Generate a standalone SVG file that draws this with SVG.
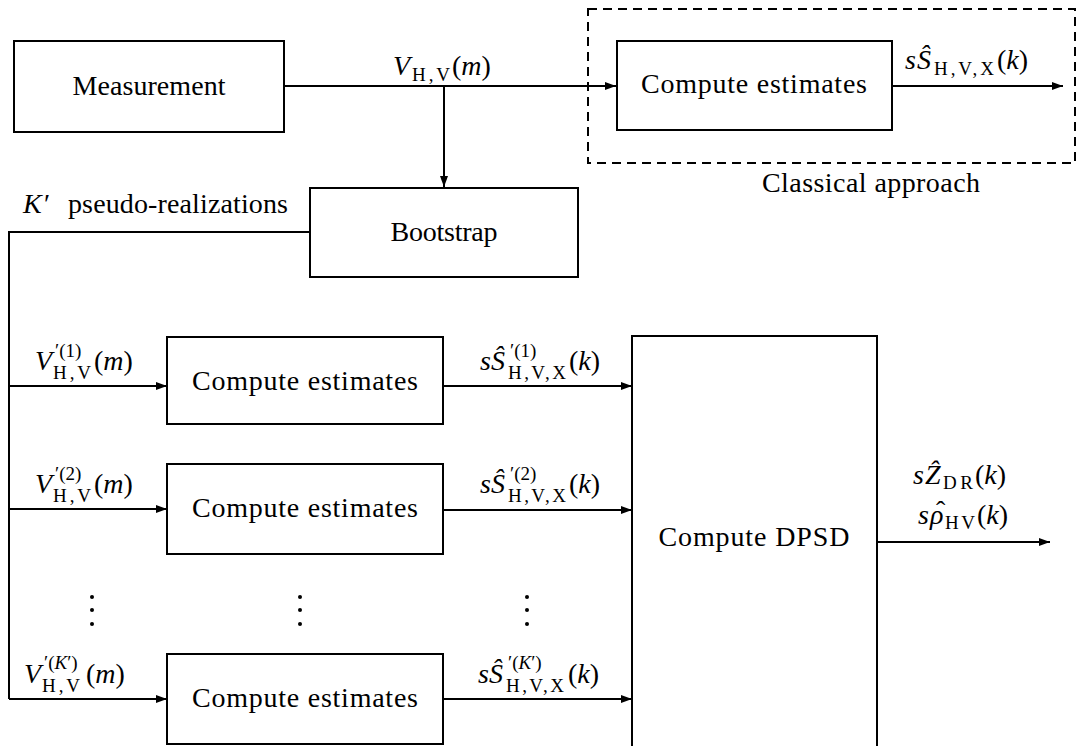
<svg xmlns="http://www.w3.org/2000/svg" width="1078" height="746" viewBox="0 0 1078 746" font-family="'Liberation Serif', 'DejaVu Serif', serif">
<style>
text, tspan{font-family:"Liberation Serif","DejaVu Serif",serif;fill:#000}
.t{font-size:28px}
.mi{font-size:28px;font-style:italic}
.mr{font-size:28px}
.sb{font-size:19px}
.si{font-size:19px;font-style:italic}
.box{fill:#fff;stroke:#000;stroke-width:2}
.ln{fill:none;stroke:#000;stroke-width:2}
.dash{fill:none;stroke:#000;stroke-width:2;stroke-dasharray:9 6}
</style>
<defs>
<marker id="ar" viewBox="0 0 11 8" refX="11" refY="4" markerWidth="11" markerHeight="8" markerUnits="userSpaceOnUse" orient="auto">
<path d="M0,0 L11,4 L0,8 z" fill="#000"/>
</marker>
</defs>
<rect width="1078" height="746" fill="#fff"/>

<g id="classical-group">
<rect class="dash" x="588" y="9" width="487" height="154"/>
<text class="t" x="871" y="192" text-anchor="middle" textLength="218">Classical approach</text>
</g>

<g id="connectors">
<path class="ln" d="M284,86 H616" marker-end="url(#ar)"/>
<path class="ln" d="M444,86 V187" marker-end="url(#ar)"/>
<path class="ln" d="M892,86 H1063" marker-end="url(#ar)"/>
<path class="ln" d="M310,232 H9 V699"/>
<path class="ln" d="M9,386 H167" marker-end="url(#ar)"/>
<path class="ln" d="M9,509 H167" marker-end="url(#ar)"/>
<path class="ln" d="M9,699 H167" marker-end="url(#ar)"/>
<path class="ln" d="M443,386 H632" marker-end="url(#ar)"/>
<path class="ln" d="M443,510 H632" marker-end="url(#ar)"/>
<path class="ln" d="M443,699 H632" marker-end="url(#ar)"/>
<path class="ln" d="M877,542 H1050" marker-end="url(#ar)"/>
</g>

<g id="measurement">
<rect class="box" x="14" y="41" width="270" height="91"/>
<text class="t" x="149" y="95" text-anchor="middle" textLength="153">Measurement</text>
</g>

<g id="compute-top">
<rect class="box" x="617" y="41" width="275" height="89"/>
<text class="t" x="754" y="93" text-anchor="middle" textLength="226">Compute estimates</text>
</g>

<g id="bootstrap">
<rect class="box" x="310" y="188" width="268" height="89"/>
<text class="t" x="444" y="241" text-anchor="middle" textLength="107">Bootstrap</text>
</g>

<g id="compute-1">
<rect class="box" x="167" y="337" width="276" height="87"/>
<text class="t" x="305" y="390" text-anchor="middle" textLength="226">Compute estimates</text>
</g>

<g id="compute-2">
<rect class="box" x="167" y="464" width="276" height="90"/>
<text class="t" x="305" y="517" text-anchor="middle" textLength="226">Compute estimates</text>
</g>

<g id="compute-k">
<rect class="box" x="167" y="654" width="276" height="90"/>
<text class="t" x="305" y="707" text-anchor="middle" textLength="226">Compute estimates</text>
</g>

<g id="compute-dpsd">
<rect class="box" x="632" y="336" width="245" height="430"/>
<text class="t" x="754" y="546" text-anchor="middle" textLength="191">Compute DPSD</text>
</g>

<g id="labels">
<text><tspan class="mi" x="393" y="75">V</tspan><tspan class="sb" x="412" y="81" textLength="38">H,V</tspan><tspan class="mr" x="452" y="75">(</tspan><tspan class="mi">m</tspan><tspan class="mr">)</tspan></text>
<text><tspan class="mi" x="905" y="69">s</tspan><tspan class="mi" x="917" y="69">Ŝ</tspan><tspan class="sb" x="934" y="75" textLength="60">H,V,X</tspan><tspan class="mr" x="997" y="69">(</tspan><tspan class="mi">k</tspan><tspan class="mr">)</tspan></text>
<text><tspan class="mi" x="23" y="213">K</tspan><tspan class="mr" x="44" y="213">′</tspan><tspan class="t" x="68" y="213" textLength="220">pseudo-realizations</tspan></text>

<text><tspan class="mi" x="35" y="370">V</tspan><tspan class="sb" x="55" y="357">′(1)</tspan><tspan class="sb" x="53" y="379" textLength="38">H,V</tspan><tspan class="mr" x="94" y="370">(</tspan><tspan class="mi">m</tspan><tspan class="mr">)</tspan></text>
<text><tspan class="mi" x="35" y="493">V</tspan><tspan class="sb" x="55" y="480">′(2)</tspan><tspan class="sb" x="53" y="502" textLength="38">H,V</tspan><tspan class="mr" x="94" y="493">(</tspan><tspan class="mi">m</tspan><tspan class="mr">)</tspan></text>
<text><tspan class="mi" x="24" y="683">V</tspan><tspan class="sb" x="44" y="669">′(</tspan><tspan class="si">K</tspan><tspan class="sb">′)</tspan><tspan class="sb" x="42" y="692" textLength="38">H,V</tspan><tspan class="mr" x="86" y="683">(</tspan><tspan class="mi">m</tspan><tspan class="mr">)</tspan></text>

<text><tspan class="mi" x="480" y="370">s</tspan><tspan class="mi" x="491" y="370">Ŝ</tspan><tspan class="sb" x="510" y="357">′(1)</tspan><tspan class="sb" x="508" y="379" textLength="58">H,V,X</tspan><tspan class="mr" x="569" y="370">(</tspan><tspan class="mi">k</tspan><tspan class="mr">)</tspan></text>
<text><tspan class="mi" x="480" y="493">s</tspan><tspan class="mi" x="491" y="493">Ŝ</tspan><tspan class="sb" x="510" y="480">′(2)</tspan><tspan class="sb" x="508" y="502" textLength="58">H,V,X</tspan><tspan class="mr" x="569" y="493">(</tspan><tspan class="mi">k</tspan><tspan class="mr">)</tspan></text>
<text><tspan class="mi" x="478" y="683">s</tspan><tspan class="mi" x="489" y="683">Ŝ</tspan><tspan class="sb" x="508" y="669">′(</tspan><tspan class="si">K</tspan><tspan class="sb">′)</tspan><tspan class="sb" x="506" y="692" textLength="58">H,V,X</tspan><tspan class="mr" x="568" y="683">(</tspan><tspan class="mi">k</tspan><tspan class="mr">)</tspan></text>

<text><tspan class="mi" x="913" y="484">s</tspan><tspan class="mi" x="925" y="484">Ẑ</tspan><tspan class="sb" x="943" y="489" textLength="30">DR</tspan><tspan class="mr" x="975" y="484">(</tspan><tspan class="mi">k</tspan><tspan class="mr">)</tspan></text>
<text><tspan class="mi" x="918" y="524">s</tspan><tspan class="mi" x="930" y="524">ρ</tspan><tspan class="mr" x="936" y="520">ˆ</tspan><tspan class="sb" x="945" y="529" textLength="30">HV</tspan><tspan class="mr" x="977" y="524">(</tspan><tspan class="mi">k</tspan><tspan class="mr">)</tspan></text>
</g>

<g id="ellipses" fill="#000">
<circle cx="92" cy="597" r="2"/><circle cx="92" cy="610" r="2"/><circle cx="92" cy="624" r="2"/>
<circle cx="300" cy="597" r="2"/><circle cx="300" cy="610" r="2"/><circle cx="300" cy="624" r="2"/>
<circle cx="527" cy="597" r="2"/><circle cx="527" cy="610" r="2"/><circle cx="527" cy="624" r="2"/>
</g>
</svg>
